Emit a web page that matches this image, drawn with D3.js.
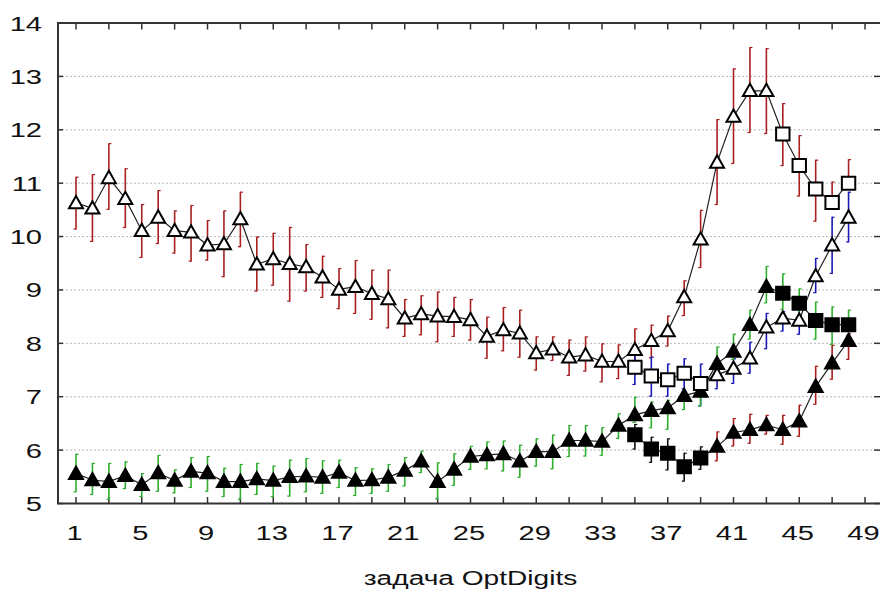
<!DOCTYPE html>
<html><head><meta charset="utf-8">
<script src="https://cdn.jsdelivr.net/npm/d3@7"></script>
<style>body{margin:0;background:#fff}svg{display:block}</style>
</head><body>
<svg id="c" width="880" height="589"></svg>
<script>
// ---------- DATA ----------
const tasks = [1,2,3,4,5,6,7,8,9,10,11,12,13,14,15,16,17,18,19,20,21,22,23,24,25,26,27,28,29,30,31,32,33,34,35,36,37,38,39,40,41,42,43,44,45,46,47,48];
const tasksLate = [35,36,37,38,39,40,41,42,43,44,45,46,47,48];
const xTickLabels = [1,5,9,13,17,21,25,29,33,37,41,45,49];
const xMinorTicks = [1,3,5,7,9,11,13,15,17,19,21,23,25,27,29,31,33,35,37,39,41,43,45,47,49];
const yTickLabels = [5,6,7,8,9,10,11,12,13,14];
const xTitle = "задача OptDigits";

// series 1 (open markers, red bars), all tasks
const s1Mean = [10.63,10.53,11.10,10.71,10.11,10.36,10.11,10.08,9.84,9.86,10.33,9.48,9.58,9.49,9.43,9.24,9.01,9.06,8.93,8.83,8.47,8.55,8.51,8.50,8.44,8.13,8.25,8.19,7.82,7.89,7.74,7.78,7.66,7.66,7.88,8.05,8.23,8.87,9.95,11.39,12.25,12.73,12.73,11.92,11.33,10.89,10.64,11.00];
const s1Up   = [11.12,11.17,11.75,11.28,10.61,10.87,10.49,10.59,10.31,10.49,10.84,10.00,10.07,10.18,9.86,9.64,9.41,9.56,9.38,9.38,8.83,8.90,8.97,8.87,8.83,8.50,8.68,8.63,8.13,8.13,8.07,8.13,8.00,7.98,8.28,8.35,8.52,9.18,10.50,12.20,13.15,13.55,13.53,12.50,11.90,11.44,11.03,11.45];
const s1Lo   = [10.13,9.90,10.50,10.16,9.60,9.86,9.68,9.53,9.55,9.24,9.80,8.97,9.08,8.78,8.97,8.85,8.64,8.55,8.44,8.28,8.12,8.15,8.02,8.12,8.05,7.71,7.85,7.73,7.49,7.67,7.39,7.47,7.27,7.33,7.50,7.72,7.94,8.51,9.41,10.59,11.36,11.94,11.92,11.32,10.75,10.28,10.50,10.91];
const s1Square = [44,45,46,47,48];

// series 2 (open markers, blue bars), tasks 35..48
const s2Mean = [7.55,7.39,7.32,7.44,7.25,7.41,7.53,7.72,8.30,8.47,8.43,9.26,9.84,10.36];
const s2Up   = [7.95,7.75,7.62,7.72,7.62,7.62,7.72,8.03,8.57,8.60,8.66,9.60,10.37,10.84];
const s2Lo   = [7.22,7.00,7.00,7.14,6.82,7.14,7.24,7.43,7.89,8.22,8.16,8.94,9.30,9.89];
const s2Square = [35,36,37,38,39];

// series 3 (filled markers, green bars), all tasks
const s3Mean = [5.56,5.44,5.41,5.52,5.35,5.57,5.43,5.60,5.57,5.41,5.41,5.46,5.43,5.50,5.51,5.49,5.58,5.43,5.44,5.49,5.62,5.79,5.41,5.64,5.88,5.91,5.93,5.79,5.97,5.97,6.18,6.18,6.16,6.46,6.66,6.74,6.79,7.02,7.10,7.62,7.85,8.35,9.06,8.94,8.75,8.43,8.35,8.35];
const s3Up   = [5.93,5.76,5.76,5.79,5.57,5.91,5.64,5.87,5.89,5.67,5.74,5.76,5.71,5.82,5.85,5.81,5.82,5.68,5.66,5.74,5.87,5.99,5.77,5.94,6.08,6.16,6.18,6.10,6.22,6.29,6.47,6.47,6.43,6.69,7.00,6.91,6.94,7.10,7.19,7.94,8.18,8.63,9.45,9.31,9.03,8.78,8.69,8.63];
const s3Lo   = [5.21,5.16,5.07,5.27,5.12,5.22,5.19,5.29,5.22,5.12,5.07,5.16,5.12,5.13,5.21,5.18,5.29,5.14,5.18,5.22,5.32,5.57,5.08,5.33,5.63,5.64,5.60,5.48,5.69,5.64,5.87,5.88,5.89,6.21,6.51,6.41,6.38,6.75,6.82,7.35,7.69,8.07,8.75,8.63,8.44,8.07,7.97,8.14];
const s3Square = [44,45,46,47,48];

// series 4 (filled markers, black/red bars), tasks 35..48
const s4Mean = [6.29,6.02,5.94,5.69,5.85,6.07,6.33,6.38,6.47,6.38,6.54,7.19,7.63,8.05];
const s4Up   = [6.49,6.25,6.22,5.95,6.07,6.35,6.60,6.68,6.66,6.66,6.85,7.58,7.97,8.19];
const s4Lo   = [6.01,5.76,5.62,5.41,5.63,5.79,6.07,6.12,6.29,6.10,6.25,6.85,7.32,7.69];
const s4Square = [35,36,37,38,39];

// ---------- STYLE ----------
const RED = "#a82020", GREEN = "#2fae2f", BLUE = "#1a1ab4", BLACK = "#111";
const series = [
  {x: tasks, mean: s1Mean, up: s1Up, lo: s1Lo, sq: s1Square, fill: "#fff", barSq: RED, barTri: RED},
  {x: tasksLate, mean: s2Mean, up: s2Up, lo: s2Lo, sq: s2Square, fill: "#fff", barSq: BLUE, barTri: BLUE},
  {x: tasks, mean: s3Mean, up: s3Up, lo: s3Lo, sq: s3Square, fill: "#000", barSq: GREEN, barTri: GREEN},
  {x: tasksLate, mean: s4Mean, up: s4Up, lo: s4Lo, sq: s4Square, fill: "#000", barSq: BLACK, barTri: RED}
];

const L = 58, T = 23, R = 881, B = 503.5;
const x = d3.scaleLinear().domain([1, 49]).range([76, 865]);
const y = d3.scaleLinear().domain([5, 14]).range([B, T]);
const SX = 1.42;

const svg = d3.select("#c");
const font = "'Liberation Sans', Arial, sans-serif";

// grid
svg.append("g").selectAll("line").data(yTickLabels.filter(v => v > 5 && v < 14)).join("line")
  .attr("x1", L).attr("x2", 875).attr("y1", d => y(d)).attr("y2", d => y(d))
  .attr("stroke", "#b8b8b8").attr("stroke-width", 1).attr("stroke-dasharray", "2,2");

// right and left ticks
svg.append("g").selectAll("line").data(yTickLabels).join("line")
  .attr("x1", 874).attr("x2", R).attr("y1", d => y(d)).attr("y2", d => y(d))
  .attr("stroke", "#333").attr("stroke-width", 1.5);
svg.append("g").selectAll("line").data(yTickLabels).join("line")
  .attr("x1", L).attr("x2", L + 5).attr("y1", d => y(d)).attr("y2", d => y(d))
  .attr("stroke", "#333").attr("stroke-width", 1.5);

// x minor ticks (top and bottom, inward)
const tg = svg.append("g");
tg.selectAll("line.b").data(xMinorTicks).join("line").attr("class", "b")
  .attr("x1", d => x(d)).attr("x2", d => x(d)).attr("y1", B).attr("y2", B - 6.5)
  .attr("stroke", "#333").attr("stroke-width", 1.5);
tg.selectAll("line.t").data(xMinorTicks).join("line").attr("class", "t")
  .attr("x1", d => x(d)).attr("x2", d => x(d)).attr("y1", T).attr("y2", T + 6.5)
  .attr("stroke", "#333").attr("stroke-width", 1.5);

// frame
svg.append("path").attr("d", `M${R},${T}H${L}V${B}H${R}`)
  .attr("fill", "none").attr("stroke", "#333").attr("stroke-width", 2);

// y labels
svg.append("g").selectAll("text").data(yTickLabels).join("text")
  .attr("transform", d => `translate(42,${y(d) + 7.5}) scale(${SX},1)`)
  .attr("text-anchor", "end").attr("font-family", font).attr("font-size", 20.5)
  .attr("fill", "#111").text(d => d);

// x labels
svg.append("g").selectAll("text").data(xTickLabels).join("text")
  .attr("transform", d => `translate(${x(d) - 1.5},540) scale(${SX},1)`)
  .attr("text-anchor", "middle").attr("font-family", font).attr("font-size", 20.5)
  .attr("fill", "#111").text(d => d);

// x title
svg.append("text").attr("transform", `translate(470.5,585) scale(${SX},1)`)
  .attr("text-anchor", "middle").attr("font-family", font).attr("font-size", 19.8)
  .attr("fill", "#111").text(xTitle);

function pts(s) {
  return s.x.map((t, i) => ({t, m: s.mean[i], u: s.up[i], l: s.lo[i], sq: s.sq.includes(t)}));
}

// error bars
series.forEach(s => {
  const g = svg.append("g");
  const p = pts(s);
  p.forEach(d => {
    const c = d.sq ? s.barSq : s.barTri;
    const cx = x(d.t);
    g.append("line").attr("x1", cx).attr("x2", cx).attr("y1", y(d.u)).attr("y2", y(d.l))
      .attr("stroke", c).attr("stroke-width", 1.6);
    g.append("line").attr("x1", cx).attr("x2", cx + 2.5).attr("y1", y(d.u) + 0.5).attr("y2", y(d.u) + 0.5)
      .attr("stroke", c).attr("stroke-width", 1.2);
    g.append("line").attr("x1", cx - 2.5).attr("x2", cx).attr("y1", y(d.l) - 0.5).attr("y2", y(d.l) - 0.5)
      .attr("stroke", c).attr("stroke-width", 1.2);
  });
});

// lines
const line = d3.line().x(d => x(d.t)).y(d => y(d.m));
series.forEach(s => {
  svg.append("path").datum(pts(s)).attr("d", line)
    .attr("fill", "none").attr("stroke", "#222").attr("stroke-width", 1.2);
});

// markers
const tri = "M0,-7L7,5.3L-7,5.3Z";
const sqr = "M-6.7,-6.5H6.7V6.5H-6.7Z";
[2, 3, 0, 1].forEach(k => {
  const s = series[k];
  svg.append("g").selectAll("path").data(pts(s)).join("path")
    .attr("d", d => d.sq ? sqr : tri)
    .attr("transform", d => `translate(${x(d.t)},${y(d.m)})`)
    .attr("fill", s.fill).attr("stroke", "#000").attr("stroke-width", 2)
    .attr("stroke-linejoin", "miter");
});
</script>
</body></html>
